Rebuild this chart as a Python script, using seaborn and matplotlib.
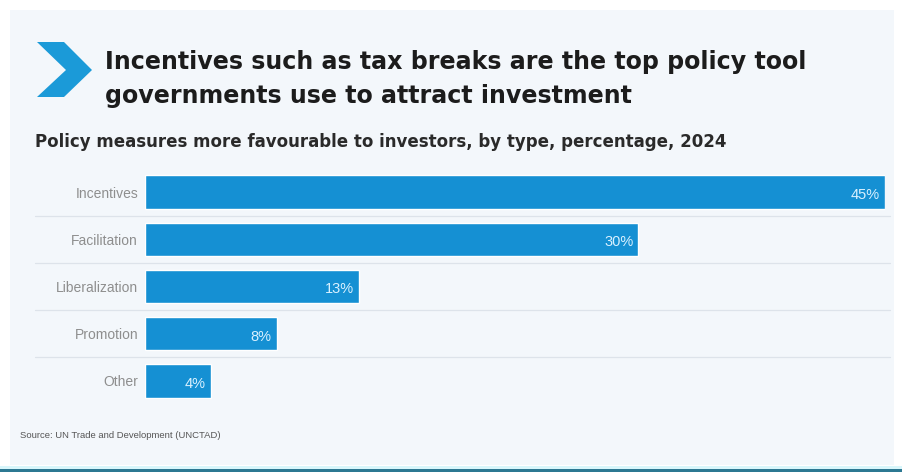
import matplotlib
matplotlib.use("Agg")
import matplotlib.pyplot as plt
import seaborn as sns
import pandas as pd
from matplotlib.patches import Rectangle, Polygon

# Policy measures more favourable to investors, 2024
categories = ["Incentives", "Facilitation", "Liberalization", "Promotion", "Other"]
shares = [45, 30, 13, 8, 4]
value_labels = ["45%", "30%", "13%", "8%", "4%"]

df = pd.DataFrame({"type": categories, "share": shares})

W, H = 902, 472
sns.set_theme(style="white")
plt.rcParams["font.family"] = ["Liberation Sans", "DejaVu Sans"]

fig = plt.figure(figsize=(W / 100, H / 100), dpi=100, facecolor="white")

def fx(px):
    return px / W

def fy(py):
    return 1 - py / H

# light card background, bottom accent strip
fig.patches.append(Rectangle((fx(10), fy(465)), fx(884), 455 / H,
                             transform=fig.transFigure, facecolor="#f3f7fb",
                             edgecolor="none", zorder=-5))
fig.patches.append(Rectangle((0, 0), 1, 3.5 / H, transform=fig.transFigure,
                             facecolor="#2c7892", edgecolor="none", zorder=-4))
fig.patches.append(Rectangle((0, 3.5 / H), 1, 3 / H, transform=fig.transFigure,
                             facecolor="#d8f6fb", edgecolor="none", zorder=-4))

# chevron mark
chev = [(37, 42), (64, 42), (92, 70), (64, 97), (37, 97), (66, 70)]
fig.patches.append(Polygon([(fx(x), fy(y)) for x, y in chev], closed=True,
                           transform=fig.transFigure, facecolor="#1b9ad8",
                           edgecolor="none", zorder=-3))

title_font = ["DejaVu Sans"]
fig.text(fx(105), fy(62), "Incentives such as tax breaks are the top policy tool",
         fontsize=17.1, fontweight="bold", color="#1c1c1c", va="center", ha="left",
         family=title_font)
fig.text(fx(105), fy(96), "governments use to attract investment",
         fontsize=17.1, fontweight="bold", color="#1c1c1c", va="center", ha="left",
         family=title_font)
fig.text(fx(35), fy(142), "Policy measures more favourable to investors, by type, percentage, 2024",
         fontsize=12, fontweight="bold", color="#2a2a2a", va="center", ha="left",
         family=title_font)
fig.text(fx(20), fy(436), "Source: UN Trade and Development (UNCTAD)",
         fontsize=6.8, color="#555555", va="center", ha="left")

# bar area: 0% at x=145 px, 45% at x=885 px; rows centred 192..381 px
row_h = 47.25
top = 192 - row_h / 2
bottom = 381 + row_h / 2
ax = fig.add_axes([fx(145), fy(bottom), fx(885) - fx(145), (bottom - top) / H])
ax.set_zorder(2)
ax.set_facecolor("none")

sns.barplot(data=df, x="share", y="type", orient="h", color="#1590d3",
            saturation=1, width=0.7, ax=ax, zorder=3)
ax.set_xlim(0, 45)
ax.set_ylim(len(categories) - 0.5, -0.5)

# thin separators between rows
for i in range(len(categories) - 1):
    ax.plot([-6.7, 45.3], [i + 0.5, i + 0.5], color="#dde3ea", lw=0.9,
            clip_on=False, zorder=1)

for i, (v, lab) in enumerate(zip(shares, value_labels)):
    ax.text(v - 0.3, i + 0.06, lab, ha="right", va="center", fontsize=10.5,
            color="#d9f1ff", zorder=4)

ax.set_xlabel("")
ax.set_ylabel("")
ax.set_xticks([])
ax.tick_params(axis="y", length=0, pad=5)
for t in ax.get_yticklabels():
    t.set_fontsize(10)
    t.set_color("#8e8e8e")
for s in ax.spines.values():
    s.set_visible(False)

fig.savefig("out.png", dpi=100, facecolor="white")
